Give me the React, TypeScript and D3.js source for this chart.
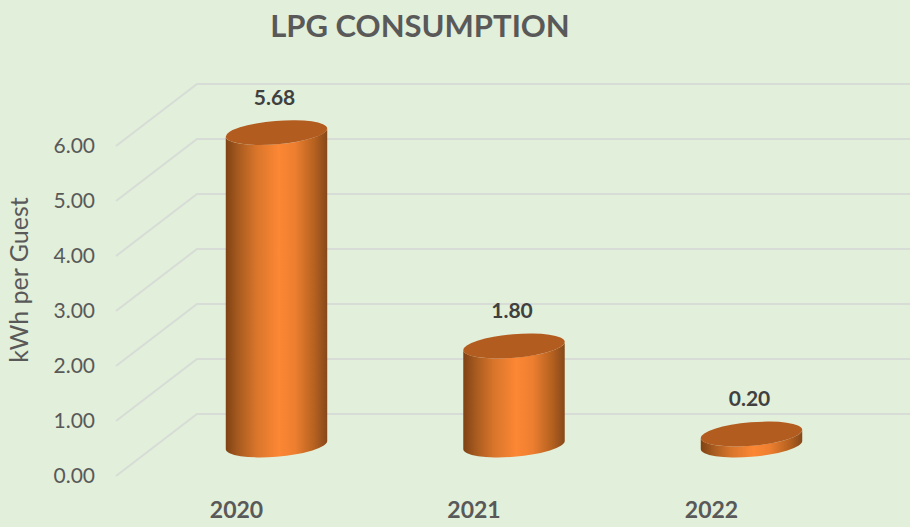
import React from "react";
import * as d3 from "d3";

const title = "LPG CONSUMPTION";
const yAxisTitle = "kWh per Guest";
const years = ["2020", "2021", "2022"];
const values = [5.68, 1.8, 0.2];
const valueLabels = ["5.68", "1.80", "0.20"];
const ticks = [0, 1, 2, 3, 4, 5, 6];

const W = 910;
const H = 527;
const font = "Lato, 'Open Sans', sans-serif";

const y = d3.scaleLinear().domain([0, 6]).range([476, 146]);
const x = d3.scaleBand<string>().domain(years).range([157.75, 870.25]).paddingInner(0).paddingOuter(0);

const depthX = 81;
const depthY = -62;
const rx = 50.9;
const ry = 11.7;
const tiltDeg = -4.8;

const t = (tiltDeg * Math.PI) / 180;
const halfW = Math.sqrt(rx * rx * Math.cos(t) ** 2 + ry * ry * Math.sin(t) ** 2);
const tanY = ((rx * rx - ry * ry) * Math.abs(Math.sin(t) * Math.cos(t))) / halfW;

export default function App() {
  return (
    <svg width={W} height={H} viewBox={`0 0 ${W} ${H}`} style={{ position: "absolute", left: 0, top: 0, display: "block" }}>
      <defs>
        <linearGradient id="cyl" x1="0" x2="1" y1="0" y2="0">
          <stop offset="0" stopColor="#7f4214" />
          <stop offset="0.12" stopColor="#a65a1f" />
          <stop offset="0.3" stopColor="#d8752b" />
          <stop offset="0.52" stopColor="#fc8734" />
          <stop offset="0.68" stopColor="#ee7f30" />
          <stop offset="0.88" stopColor="#b3601f" />
          <stop offset="1" stopColor="#86481a" />
        </linearGradient>
      </defs>
      <rect x={0} y={0} width={W} height={H} fill="#e2efda" />
      {ticks.map((v) => (
        <g key={v}>
          <path
            d={`M${116},${y(v)}L${116 + depthX},${y(v) + depthY}H${W}`}
            fill="none"
            stroke="#d7dcd6"
            strokeWidth={2}
          />
          <text x={95} y={y(v) + 7} textAnchor="end" fontFamily={font} fontSize={21} fill="#595959">
            {v.toFixed(2)}
          </text>
        </g>
      ))}
      <text
        transform="translate(28,280) rotate(-90)"
        textAnchor="middle"
        fontFamily={font}
        fontSize={25}
        fill="#595959"
      >
        {yAxisTitle}
      </text>
      <text x={420} y={37} textAnchor="middle" fontFamily={font} fontSize={31} fontWeight={700} fill="#595959">
        {title}
      </text>
      {years.map((yr, i) => {
        const cx = (x(yr) as number) + x.bandwidth() / 2;
        const base = y(0) + depthY / 2;
        const top = y(values[i]) + depthY / 2;
        const body =
          `M${cx - halfW},${top + tanY}` +
          `L${cx - halfW},${base + tanY}` +
          `A${rx},${ry} ${tiltDeg} 0 0 ${cx + halfW},${base - tanY}` +
          `L${cx + halfW},${top - tanY}` +
          `A${rx},${ry} ${tiltDeg} 0 1 ${cx - halfW},${top + tanY}Z`;
        return (
          <g key={yr}>
            <path d={body} fill="url(#cyl)" />
            <ellipse
              cx={cx}
              cy={top}
              rx={rx}
              ry={ry}
              transform={`rotate(${tiltDeg} ${cx} ${top})`}
              fill="#b35c20"
            />
            <text x={cx - 2} y={top - 28} textAnchor="middle" fontFamily={font} fontSize={21} fontWeight={700} fill="#404040">
              {valueLabels[i]}
            </text>
            <text x={cx - 40} y={518} textAnchor="middle" fontFamily={font} fontSize={23} fontWeight={700} fill="#595959">
              {yr}
            </text>
          </g>
        );
      })}
    </svg>
  );
}
